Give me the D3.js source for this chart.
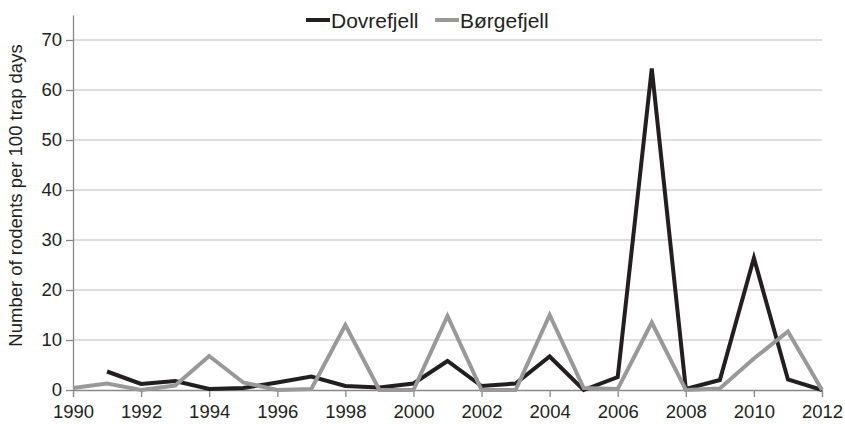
<!DOCTYPE html>
<html>
<head>
<meta charset="utf-8">
<script src="https://cdn.jsdelivr.net/npm/d3@7"></script>
<style>
  body { margin: 0; background: #fff; }
  svg { display: block; font-family: "Liberation Sans", Arial, sans-serif; }
</style>
</head>
<body>
<svg id="chart" width="845" height="424"></svg>
<script>
// values
const years = d3.range(1990, 2013);
const dovrefjell = [null, 3.7, 1.2, 1.8, 0.2, 0.4, 1.5, 2.7, 0.8, 0.5, 1.3, 5.8, 0.8, 1.3, 6.7, 0, 2.6, 64.3, 0.2, 2.0, 26.4, 2.1, 0];
const borgefjell = [0.4, 1.3, 0, 0.9, 6.8, 1.5, 0, 0.2, 13.0, 0, 0, 14.8, 0, 0, 15.0, 0.4, 0.2, 13.5, 0, 0.3, 6.3, 11.7, 0];
const yTicks = [0, 10, 20, 30, 40, 50, 60, 70];
const xTicks = d3.range(1990, 2013, 2);

const series = [
  { name: "Dovrefjell", values: dovrefjell, color: "#231f20" },
  { name: "Børgefjell", values: borgefjell, color: "#999999" }
];

const svg = d3.select("#chart");
const width = 845, height = 424;
const margin = { top: 15, right: 23, bottom: 34, left: 73 };
const font = "Liberation Sans, Arial, sans-serif";

const x = d3.scaleLinear()
  .domain([1990, 2012])
  .range([margin.left, width - margin.right]);

const y = d3.scaleLinear()
  .domain([0, 75])
  .range([height - margin.bottom, margin.top]);

// grid
svg.append("g")
  .selectAll("line")
  .data(yTicks.slice(1))
  .join("line")
  .attr("x1", x(1990)).attr("x2", x(2012))
  .attr("y1", d => y(d)).attr("y2", d => y(d))
  .attr("stroke", "#bdbdbd")
  .attr("stroke-width", 1);

// y axis
const gy = svg.append("g")
  .attr("transform", `translate(${margin.left},0)`)
  .call(d3.axisLeft(y).tickValues(yTicks).tickSize(7).tickSizeOuter(0).tickPadding(4));
gy.select(".domain").attr("stroke", "#888").attr("stroke-width", 1.3);
gy.selectAll(".tick line").attr("stroke", "#888").attr("stroke-width", 1.3);
gy.selectAll(".tick text").attr("font-size", 18.5).attr("fill", "#231f20")
  .attr("font-family", font);

// x axis
const gx = svg.append("g")
  .attr("transform", `translate(0,${y(0)})`)
  .call(d3.axisBottom(x).tickValues(xTicks).tickFormat(d3.format("d")).tickSize(7).tickSizeOuter(0).tickPadding(8));
gx.select(".domain").attr("stroke", "#888").attr("stroke-width", 1.3);
gx.selectAll(".tick line").attr("stroke", "#888").attr("stroke-width", 1.3);
gx.selectAll(".tick text").attr("font-size", 18.5).attr("fill", "#231f20")
  .attr("font-family", font);

// y label
svg.append("text")
  .attr("transform", `translate(22,${(y(0) + y(75)) / 2 - 7}) rotate(-90)`)
  .attr("text-anchor", "middle")
  .attr("font-size", 18.5)
  .attr("font-family", font)
  .attr("fill", "#231f20")
  .text("Number of rodents per 100 trap days");

// lines
const line = d3.line()
  .defined(d => d.v !== null)
  .x(d => x(d.year))
  .y(d => y(d.v));

series.forEach(s => {
  svg.append("path")
    .datum(years.map((yr, i) => ({ year: yr, v: s.values[i] })))
    .attr("fill", "none")
    .attr("stroke", s.color)
    .attr("stroke-width", 4)
    .attr("stroke-linejoin", "miter")
    .attr("d", line);
});

// legend
const legend = svg.append("g");
const legendX = [306, 435];
series.forEach((s, i) => {
  const g = legend.append("g").attr("transform", `translate(${legendX[i]},20)`);
  g.append("line")
    .attr("x1", 0).attr("x2", 24)
    .attr("stroke", s.color).attr("stroke-width", 4);
  g.append("text")
    .attr("x", 25).attr("y", 7.5)
    .attr("font-size", 21)
    .attr("font-family", font)
    .attr("fill", "#231f20")
    .text(s.name);
});
</script>
</body>
</html>
